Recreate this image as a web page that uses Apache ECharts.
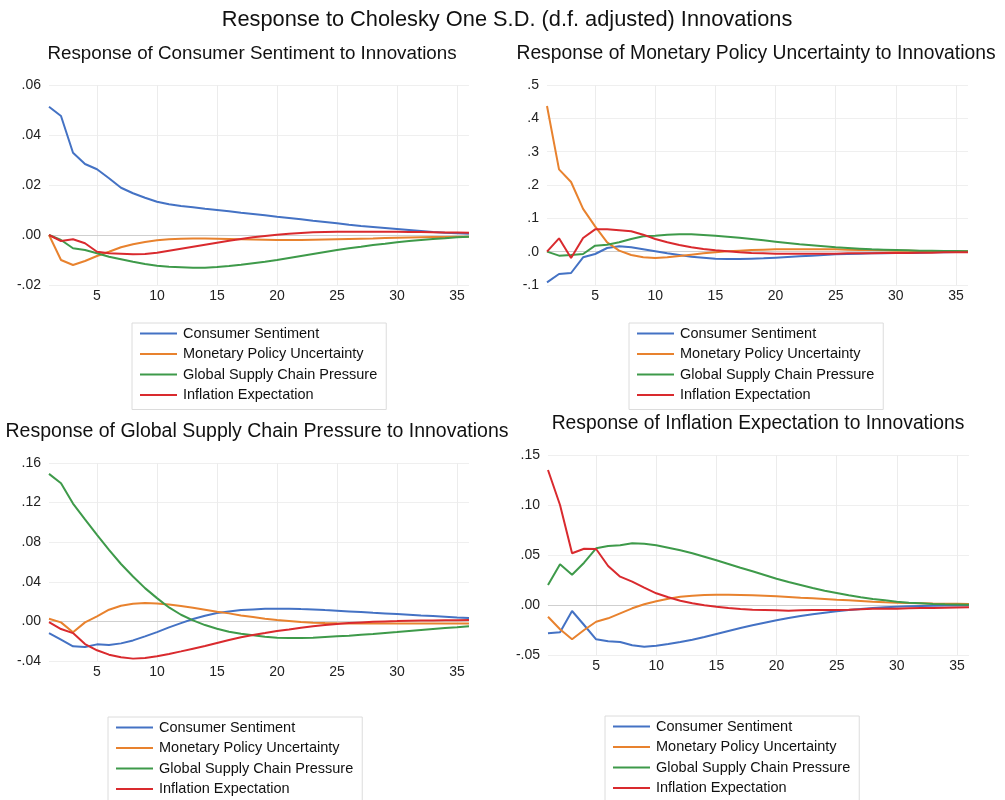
<!DOCTYPE html>
<html>
<head>
<meta charset="utf-8">
<script src="https://cdn.jsdelivr.net/npm/echarts@6/dist/echarts.min.js"></script>
<style>html,body{margin:0;padding:0;background:#fff}#c{width:1005px;height:800px}</style>
</head>
<body>
<div id="c"></div>
<script>
const periods = [1,2,3,4,5,6,7,8,9,10,11,12,13,14,15,16,17,18,19,20,21,22,23,24,25,26,27,28,29,30,31,32,33,34,35,36];
const seriesNames = ['Consumer Sentiment','Monetary Policy Uncertainty','Global Supply Chain Pressure','Inflation Expectation'];
const mainTitle = 'Response to Cholesky One S.D. (d.f. adjusted) Innovations';
const panelTitles = ['Response of Consumer Sentiment to Innovations','Response of Monetary Policy Uncertainty to Innovations','Response of Global Supply Chain Pressure to Innovations','Response of Inflation Expectation to Innovations'];

// Panel 1: Response of Consumer Sentiment
const cs_cs  = [0.0513,0.0476,0.0329,0.0284,0.0263,0.0227,0.0189,0.0167,0.0149,0.0133,0.0123,0.0116,0.0111,0.0105,0.0100,0.0095,0.0089,0.0084,0.0079,0.0073,0.0068,0.0063,0.0057,0.0052,0.0047,0.0041,0.0036,0.0032,0.0028,0.0024,0.0020,0.0016,0.0012,0.0009,0.0007,0.0005];
const cs_mpu = [0,-0.0100,-0.0120,-0.0104,-0.0084,-0.0067,-0.0049,-0.0037,-0.0028,-0.0021,-0.0017,-0.0015,-0.0014,-0.0014,-0.0015,-0.0016,-0.0017,-0.0018,-0.0019,-0.0020,-0.0020,-0.0020,-0.0019,-0.0018,-0.0017,-0.0016,-0.0015,-0.0014,-0.0012,-0.0011,-0.0010,-0.0009,-0.0008,-0.0008,-0.0007,-0.0007];
const cs_gscp= [0,-0.0020,-0.0053,-0.0060,-0.0073,-0.0087,-0.0097,-0.0107,-0.0116,-0.0123,-0.0127,-0.0129,-0.0131,-0.0131,-0.0128,-0.0124,-0.0119,-0.0113,-0.0107,-0.0100,-0.0092,-0.0084,-0.0076,-0.0068,-0.0060,-0.0053,-0.0047,-0.0040,-0.0035,-0.0029,-0.0024,-0.0020,-0.0016,-0.0013,-0.0009,-0.0007];
const cs_ie  = [0,-0.0024,-0.0017,-0.0033,-0.0067,-0.0073,-0.0075,-0.0077,-0.0076,-0.0071,-0.0063,-0.0055,-0.0047,-0.0039,-0.0031,-0.0023,-0.0016,-0.0009,-0.0004,0.0001,0.0005,0.0008,0.0011,0.0012,0.0013,0.0013,0.0013,0.0013,0.0013,0.0013,0.0012,0.0012,0.0011,0.0010,0.0010,0.0009];

// Panel 2: Response of Monetary Policy Uncertainty
const mpu_cs  = [-0.092,-0.067,-0.064,-0.017,-0.007,0.011,0.016,0.013,0.007,0.001,-0.005,-0.010,-0.015,-0.018,-0.021,-0.022,-0.022,-0.021,-0.020,-0.018,-0.016,-0.014,-0.012,-0.010,-0.008,-0.007,-0.006,-0.005,-0.005,-0.004,-0.004,-0.003,-0.002,-0.002,-0.001,-0.001];
const mpu_mpu = [0.437,0.247,0.209,0.1285,0.076,0.028,0.003,-0.010,-0.017,-0.019,-0.017,-0.013,-0.009,-0.005,-0.002,0.001,0.003,0.005,0.006,0.007,0.007,0.007,0.007,0.007,0.007,0.006,0.005,0.005,0.004,0.003,0.003,0.002,0.002,0.001,0.001,0.001];
const mpu_gscp= [0,-0.012,-0.010,-0.007,0.018,0.021,0.028,0.038,0.046,0.048,0.051,0.052,0.052,0.050,0.048,0.045,0.042,0.038,0.034,0.030,0.026,0.022,0.019,0.016,0.013,0.011,0.009,0.007,0.006,0.005,0.004,0.003,0.003,0.002,0.002,0.001];
const mpu_ie  = [0,0.040,-0.019,0.041,0.067,0.067,0.064,0.061,0.051,0.038,0.028,0.020,0.013,0.008,0.004,0.001,-0.002,-0.004,-0.005,-0.006,-0.006,-0.006,-0.006,-0.006,-0.006,-0.005,-0.005,-0.005,-0.004,-0.004,-0.004,-0.003,-0.003,-0.002,-0.002,-0.002];

// Panel 3: Response of Global Supply Chain Pressure
const gscp_cs  = [-0.0118,-0.0185,-0.0252,-0.0259,-0.0232,-0.0239,-0.0222,-0.0192,-0.0151,-0.0108,-0.0060,-0.0017,0.0024,0.0057,0.0084,0.0101,0.0114,0.0121,0.0128,0.0128,0.0128,0.0124,0.0121,0.0114,0.0108,0.0101,0.0094,0.0087,0.0081,0.0074,0.0067,0.0060,0.0054,0.0047,0.0040,0.0034];
const gscp_mpu = [0.0027,-0.0010,-0.0110,-0.0010,0.0050,0.0118,0.0158,0.0178,0.0185,0.0182,0.0171,0.0155,0.0138,0.0118,0.0097,0.0081,0.0060,0.0044,0.0027,0.0013,0.0003,-0.0007,-0.0013,-0.0017,-0.0019,-0.0020,-0.0020,-0.0020,-0.0020,-0.0020,-0.0020,-0.0020,-0.0020,-0.0020,-0.0020,-0.0020];
const gscp_gscp= [0.149,0.1395,0.119,0.103,0.0874,0.0723,0.058,0.0454,0.0336,0.0235,0.0141,0.0067,0.0010,-0.0037,-0.0074,-0.0104,-0.0124,-0.0141,-0.0155,-0.0165,-0.0168,-0.0168,-0.0165,-0.0158,-0.0151,-0.0145,-0.0134,-0.0128,-0.0118,-0.0108,-0.0097,-0.0087,-0.0077,-0.0067,-0.0060,-0.0050];
const gscp_ie  = [-0.0007,-0.0077,-0.0118,-0.0229,-0.0292,-0.0336,-0.0363,-0.0376,-0.0370,-0.0353,-0.0329,-0.0303,-0.0276,-0.0249,-0.0218,-0.0188,-0.0161,-0.0138,-0.0118,-0.0097,-0.0081,-0.0064,-0.0050,-0.0037,-0.0027,-0.0017,-0.0010,-0.0003,0.0000,0.0003,0.0007,0.0009,0.0010,0.0011,0.0012,0.0013];

// Panel 4: Response of Inflation Expectation
const ie_cs  = [-0.0283,-0.0273,-0.0060,-0.0200,-0.0343,-0.0363,-0.0370,-0.0403,-0.0417,-0.0407,-0.0390,-0.0370,-0.0347,-0.0320,-0.0290,-0.0260,-0.0230,-0.0203,-0.0177,-0.0153,-0.0130,-0.0110,-0.0093,-0.0077,-0.0063,-0.0050,-0.0040,-0.0030,-0.0023,-0.0017,-0.0013,-0.0010,-0.0008,-0.0006,-0.0004,-0.0003];
const ie_mpu = [-0.0117,-0.0243,-0.0343,-0.0250,-0.0167,-0.0133,-0.0083,-0.0033,0.0007,0.0037,0.0063,0.0083,0.0093,0.0100,0.0103,0.0103,0.0100,0.0097,0.0093,0.0087,0.0080,0.0073,0.0067,0.0060,0.0053,0.0047,0.0040,0.0033,0.0027,0.0023,0.0020,0.0018,0.0015,0.0013,0.0012,0.0010];
const ie_gscp= [0.0200,0.0407,0.0303,0.0423,0.0567,0.0590,0.0597,0.0617,0.0613,0.0597,0.0573,0.0547,0.0517,0.0483,0.0447,0.0410,0.0373,0.0337,0.0300,0.0263,0.0230,0.0200,0.0170,0.0143,0.0120,0.0097,0.0077,0.0060,0.0047,0.0033,0.0023,0.0017,0.0010,0.0007,0.0005,0.0003];
const ie_ie  = [0.135,0.100,0.0517,0.0563,0.0560,0.0390,0.0283,0.0233,0.0173,0.0117,0.0077,0.0043,0.0017,-0.0003,-0.0017,-0.0030,-0.0040,-0.0047,-0.0050,-0.0053,-0.0057,-0.0053,-0.0050,-0.0050,-0.0050,-0.0047,-0.0043,-0.0037,-0.0037,-0.0037,-0.0033,-0.0031,-0.0029,-0.0027,-0.0025,-0.0023];

// Y axis ranges per panel
const yMin = [-0.02, -0.1, -0.04, -0.05];
const yMax = [0.06, 0.5, 0.16, 0.15];
const yStep = [0.02, 0.1, 0.04, 0.05];
const yDecimals = [2, 1, 2, 2];

const panelData = [
  [cs_cs, cs_mpu, cs_gscp, cs_ie],
  [mpu_cs, mpu_mpu, mpu_gscp, mpu_ie],
  [gscp_cs, gscp_mpu, gscp_gscp, gscp_ie],
  [ie_cs, ie_mpu, ie_gscp, ie_ie]
];

const colors = ['#4472C4', '#E8822E', '#3E9A4A', '#D92A2E'];
const FONT = '"Liberation Sans", Arial, Helvetica, sans-serif';

const grids = [
  {left: 49, top: 85, width: 420, height: 200},
  {left: 547, top: 85, width: 421, height: 200},
  {left: 49, top: 463, width: 420, height: 198},
  {left: 548, top: 455, width: 421, height: 200}
];
const titlePos = [
  {x: 252, y: 55, size: 18.8}, {x: 756, y: 55, size: 19.3}, {x: 257, y: 433, size: 19.5}, {x: 758, y: 425, size: 19.3}
];
const legendPos = [
  {left: 132, top: 323}, {left: 629, top: 323}, {left: 108, top: 717}, {left: 605, top: 716}
];

function fmt(d) {
  return function (v) {
    let s = Number(v).toFixed(d);
    if (Math.abs(Number(v)) < 1e-9) s = (0).toFixed(d);
    return s.replace(/^(-?)0\./, '$1.');
  };
}

const option = {
  backgroundColor: '#fff',
  animation: false,
  title: [{text: mainTitle, left: 507, top: 9, textAlign: 'center', padding: 0,
           textStyle: {fontFamily: FONT, fontSize: 21.8, fontWeight: 'normal', color: '#111'}}]
    .concat(titlePos.map((p, i) => ({
      text: panelTitles[i], left: p.x, top: p.y - 11, textAlign: 'center', padding: 0,
      textStyle: {fontFamily: FONT, fontSize: p.size, fontWeight: 'normal', color: '#111'}
    }))),
  grid: grids,
  xAxis: grids.map((g, i) => ({
    type: 'category', gridIndex: i, data: periods, boundaryGap: false,
    axisLine: {show: false}, axisTick: {show: false},
    axisLabel: {interval: (idx, val) => Number(val) % 5 === 0, margin: 4,
                fontFamily: FONT, fontSize: 14, color: '#222'},
    splitLine: {show: true, interval: (idx, val) => Number(val) % 5 === 0,
                lineStyle: {color: '#ececec', width: 1}}
  })),
  yAxis: grids.map((g, i) => ({
    type: 'value', gridIndex: i, min: yMin[i], max: yMax[i], interval: yStep[i],
    axisLine: {show: false}, axisTick: {show: false},
    axisLabel: {formatter: fmt(yDecimals[i]), margin: 8, fontFamily: FONT, fontSize: 14, color: '#222'},
    splitLine: {show: true, lineStyle: {color: '#efefef', width: 1}}
  })),
  legend: legendPos.map((p) => ({
    left: p.left, top: p.top, height: 110, orient: 'vertical', data: seriesNames,
    selectedMode: false, icon: 'rect', itemWidth: 37, itemHeight: 2,
    itemGap: 5.5, padding: [3, 9, 7, 8],
    borderColor: '#dcdcdc', borderWidth: 1,
    textStyle: {fontFamily: FONT, fontSize: 14.5, color: '#111', lineHeight: 15, padding: [0, 0, 0, 1]}
  })),
  series: []
};

panelData.forEach((arrs, gi) => {
  arrs.forEach((arr, si) => {
    const s = {
      name: seriesNames[si], type: 'line', xAxisIndex: gi, yAxisIndex: gi,
      data: arr, showSymbol: false, symbol: 'none', smooth: false,
      lineStyle: {color: colors[si], width: 2}, itemStyle: {color: colors[si]},
      z: 3
    };
    if (si === 0) {
      s.markLine = {silent: true, symbol: 'none', label: {show: false},
        lineStyle: {color: '#cfcfcf', width: 1, type: 'solid'}, data: [{yAxis: 0}], z: 1};
    }
    option.series.push(s);
  });
});

const chart = echarts.init(document.getElementById('c'), null, {renderer: 'canvas'});
chart.setOption(option);
</script>
</body>
</html>
